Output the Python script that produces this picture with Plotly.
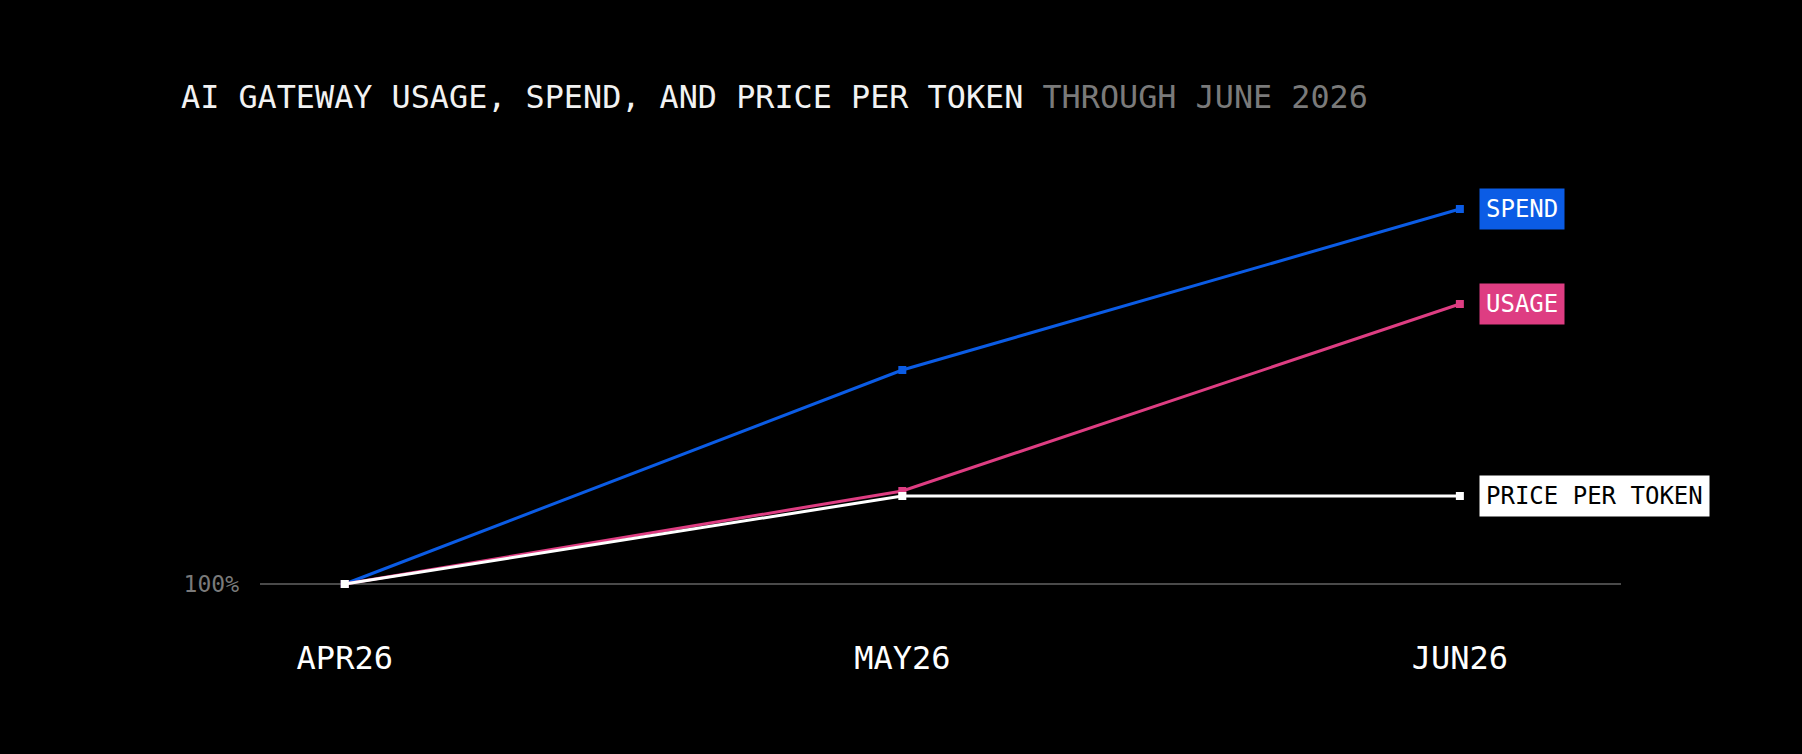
import plotly.graph_objects as go

# data
months = ["APR26", "MAY26", "JUN26"]
series_names = ["SPEND", "USAGE", "PRICE PER TOKEN"]
spend = [100, 314, 475]
usage = [100, 193, 380]
price_per_token = [100, 188, 188]

colors = {"SPEND": "#0b5ce5", "USAGE": "#de3d82", "PRICE PER TOKEN": "#ffffff"}
label_text_colors = {"SPEND": "#ffffff", "USAGE": "#ffffff", "PRICE PER TOKEN": "#000000"}
mono = "DejaVu Sans Mono, Liberation Mono, monospace"

fig = go.Figure()
for name, vals in zip(series_names, [spend, usage, price_per_token]):
    fig.add_trace(go.Scatter(
        x=months, y=vals, name=name, mode="lines+markers",
        line=dict(color=colors[name], width=3),
        marker=dict(symbol="square", size=8, color=colors[name]),
        hoverinfo="skip",
    ))
    # end label box
    fig.add_annotation(
        x=months[-1], y=vals[-1], text=name, showarrow=False,
        xanchor="left", yanchor="middle", xshift=19,
        bgcolor=colors[name], borderpad=6,
        font=dict(family=mono, size=24, color=label_text_colors[name]),
    )

fig.update_layout(
    width=1802, height=754,
    paper_bgcolor="#000000", plot_bgcolor="#000000",
    showlegend=False,
    margin=dict(l=260, r=181, t=150, b=134),
    title=dict(
        text="AI GATEWAY USAGE, SPEND, AND PRICE PER TOKEN <span style='color:#7a7a7a'>THROUGH JUNE 2026</span>",
        x=181 / 1802, xref="container", xanchor="left",
        y=1 - 97 / 754, yref="container", yanchor="middle",
        font=dict(family=mono, size=31.8, color="#f2f2f2"),
    ),
    xaxis=dict(
        type="category", range=[-0.152, 2.289],
        showgrid=False, zeroline=False, showline=False, ticks="",
        tickfont=dict(family=mono, size=32, color="#ffffff"),
        ticklabelstandoff=16,
    ),
    yaxis=dict(
        range=[64, 534], tickvals=[100], ticktext=["100%"],
        showgrid=True, gridcolor="#4a4a4a", gridwidth=1.5,
        zeroline=False, showline=False, ticks="",
        tickfont=dict(family=mono, size=23, color="#7a7a7a"),
        ticklabelstandoff=20,
    ),
)

fig.write_html(
    "out.html",
    config={"displayModeBar": False},
    post_script="document.body.style.margin='0';document.body.style.background='#000';",
)
